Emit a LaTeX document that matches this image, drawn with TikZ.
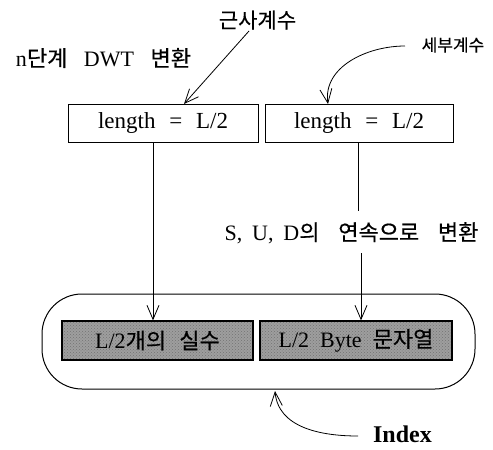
\documentclass[tikz,border=0pt]{standalone}
\usepackage{fontspec}
\setmainfont{Liberation Serif}
\newfontfamily\kr[FakeBold=0.4]{Noto Sans CJK KR}
\usetikzlibrary{arrows.meta,calc,patterns}
\begin{document}
\begin{tikzpicture}[x=1pt,y=-1pt,
  lenbox/.style={draw, line width=1pt, minimum height=38pt, inner sep=0pt, font=\fontsize{23}{23}\selectfont},
  shadebox/.style={draw=black, line width=1.3pt, preaction={fill=black!38}, pattern=crosshatch dots, pattern color=black!55, minimum height=39pt, inner sep=0pt, font=\fontsize{22}{22}\selectfont},
  arr/.style={-{Straight Barb[length=14pt,width=12pt]}, line width=0.8pt},
  plain/.style={line width=0.8pt},
  lbl/.style={inner sep=0pt, font=\fontsize{22}{22}\selectfont}
]
\useasboundingbox (0,0) rectangle (493,450);

% labels
\node[lbl, font=\kr\fontsize{21}{21}\selectfont] (approx) at (257.5,20) {근사계수};
\node[lbl] (dwt) at (103.5,58) {n{\kr 단계}\hspace{0.75em}DWT\hspace{0.75em}{\kr 변환}};
\node[lbl, font=\kr\fontsize{17}{17}\selectfont] (detail) at (453,45) {세부계수};
\node[lbl] (sud) at (351.5,233) {S,\hspace{0.45em}U,\hspace{0.45em}D{\kr 의}\hspace{0.85em}{\kr 연속으로}\hspace{0.85em}{\kr 변환}};
\node[lbl, font=\bfseries\fontsize{24}{24}\selectfont] (idx) at (402.5,434) {Index};

% top boxes
\node[lenbox, minimum width=190pt] (b1) at (163,123) {length\hspace{0.6em}=\hspace{0.6em}L/2};
\node[lenbox, minimum width=188pt] (b2) at (359,123) {length\hspace{0.6em}=\hspace{0.6em}L/2};

% frame and shaded boxes
\node[draw, line width=1pt, rounded corners=40pt, minimum width=433pt, minimum height=95pt, inner sep=0pt] (frame) at (258.5,341.5) {};
\node[shadebox, minimum width=191pt] (sa) at (157.5,340.5) {L/2{\kr 개의}\hspace{0.6em}{\kr 실수}};
\node[shadebox, minimum width=192pt] (sb) at (356,340.5) {L/2\hspace{0.5em}Byte\hspace{0.5em}{\kr 문자열}};

% coordinates
\coordinate (a0) at (249,31);
\coordinate (a1) at (184,104);
\coordinate (d0) at (405,46);
\coordinate (d1) at (328,104);
\coordinate (v1) at (153,142);
\coordinate (v2) at (358,142);
\coordinate (v2e) at (358,211);
\coordinate (v3) at (361,253);
\coordinate (i0) at (358,436);
\coordinate (i1) at (275,391);

% connectors
\draw[arr] (a0) -- (a1);
\draw[arr] (d0) to[out=180,in=98] (d1);
\draw[arr] (v1) -- (v1 |- sa.north);
\draw[plain] (v2) -- (v2e);
\draw[arr] (v3) -- (v3 |- sb.north);
\draw[arr] (i0) to[out=180,in=-85] (i1);
\end{tikzpicture}
\end{document}
